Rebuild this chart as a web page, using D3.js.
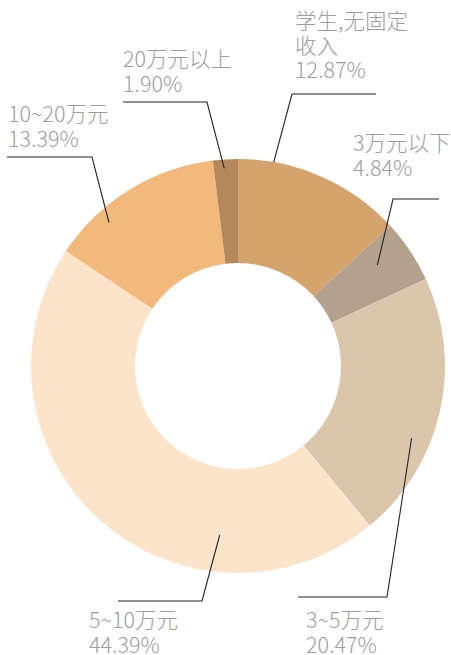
<!DOCTYPE html>
<html>
<head>
<meta charset="utf-8">
<script src="https://cdn.jsdelivr.net/npm/d3@7"></script>
<style>
	body { margin: 0; background: #fff; }
	svg { display: block; }
	text { font-family: "Noto Sans CJK SC", "Noto Sans", sans-serif; }
</style>
</head>
<body>
<script>
// income groups, clockwise from 12 o'clock
var categories = ["学生,无固定\n收入", "3万元以下", "3~5万元", "5~10万元", "10~20万元", "20万元以上"];
var shares = [12.87, 4.84, 20.47, 44.39, 13.39, 1.90];
var colors = ["#d5a36c", "#b4a18d", "#dcc6ab", "#fce4ca", "#f3b97c", "#b4885b"];

// leader-line layout: t = where in the slice the line starts, r = radius there
var leaders = [
	{ t: 0.21, r: 207, elbow: [292, 94], end: 376, tx: 295, ty: 29 },
	{ t: 0.38, r: 172, elbow: [393, 199], end: 439, tx: 353, ty: 151 },
	{ t: 0.63, r: 188, elbow: [387, 597], end: 298, tx: 306, ty: 628 },
	{ t: 0.28, r: 170, elbow: [202, 601], end: 118, tx: 89, ty: 628 },
	{ t: 0.29, r: 193, elbow: [92, 157], end: 7, tx: 8, ty: 122 },
	{ t: 0.43, r: 198, elbow: [207, 102], end: 123, tx: 123, ty: 67 }
];

var width = 451, height = 655;
var cx = 238, cy = 366;
var outerR = 207, innerR = 103;
var lineGap = 24.5;

var svg = d3.select("body")
	.append("svg")
		.attr("width", width)
		.attr("height", height);

var pie = d3.pie()
		.sort(null)
		.value(function(d) { return d; });

var arcs = pie(shares);

var arc = d3.arc()
		.innerRadius(innerR)
		.outerRadius(outerR);

svg.append("g")
		.attr("transform", "translate(" + cx + "," + cy + ")")
	.selectAll("path")
		.data(arcs)
	.enter()
	.append("path")
		.attr("d", arc)
		.attr("fill", function(d, i) { return colors[i]; });

function startPoint(d, i) {
	var L = leaders[i];
	var a = d.startAngle + (d.endAngle - d.startAngle) * L.t;
	return [cx + L.r * Math.sin(a), cy - L.r * Math.cos(a)];
}

svg.append("g")
	.selectAll("polyline")
		.data(arcs)
	.enter()
	.append("polyline")
		.attr("points", function(d, i) {
			var L = leaders[i], p = startPoint(d, i);
			return [p, L.elbow, [L.end, L.elbow[1]]].map(function(q) { return q.join(","); }).join(" ");
		})
		.attr("fill", "none")
		.attr("stroke", "#222")
		.attr("stroke-width", 1.1);

var labels = svg.append("g")
	.selectAll("text")
		.data(arcs)
	.enter()
	.append("text")
		.attr("x", function(d, i) { return leaders[i].tx; })
		.attr("y", function(d, i) { return leaders[i].ty; })
		.attr("fill", "#9d9d9d")
		.attr("font-size", "21.5px")
		.attr("font-weight", 300);

labels.each(function(d, i) {
	var lines = categories[i].split("\n").concat([shares[i].toFixed(2) + "%"]);
	d3.select(this).selectAll("tspan")
		.data(lines)
	.enter()
	.append("tspan")
		.attr("x", leaders[i].tx)
		.attr("dy", function(s, j) { return j === 0 ? 0 : lineGap; })
		.text(function(s) { return s; });
});
</script>
</body>
</html>
